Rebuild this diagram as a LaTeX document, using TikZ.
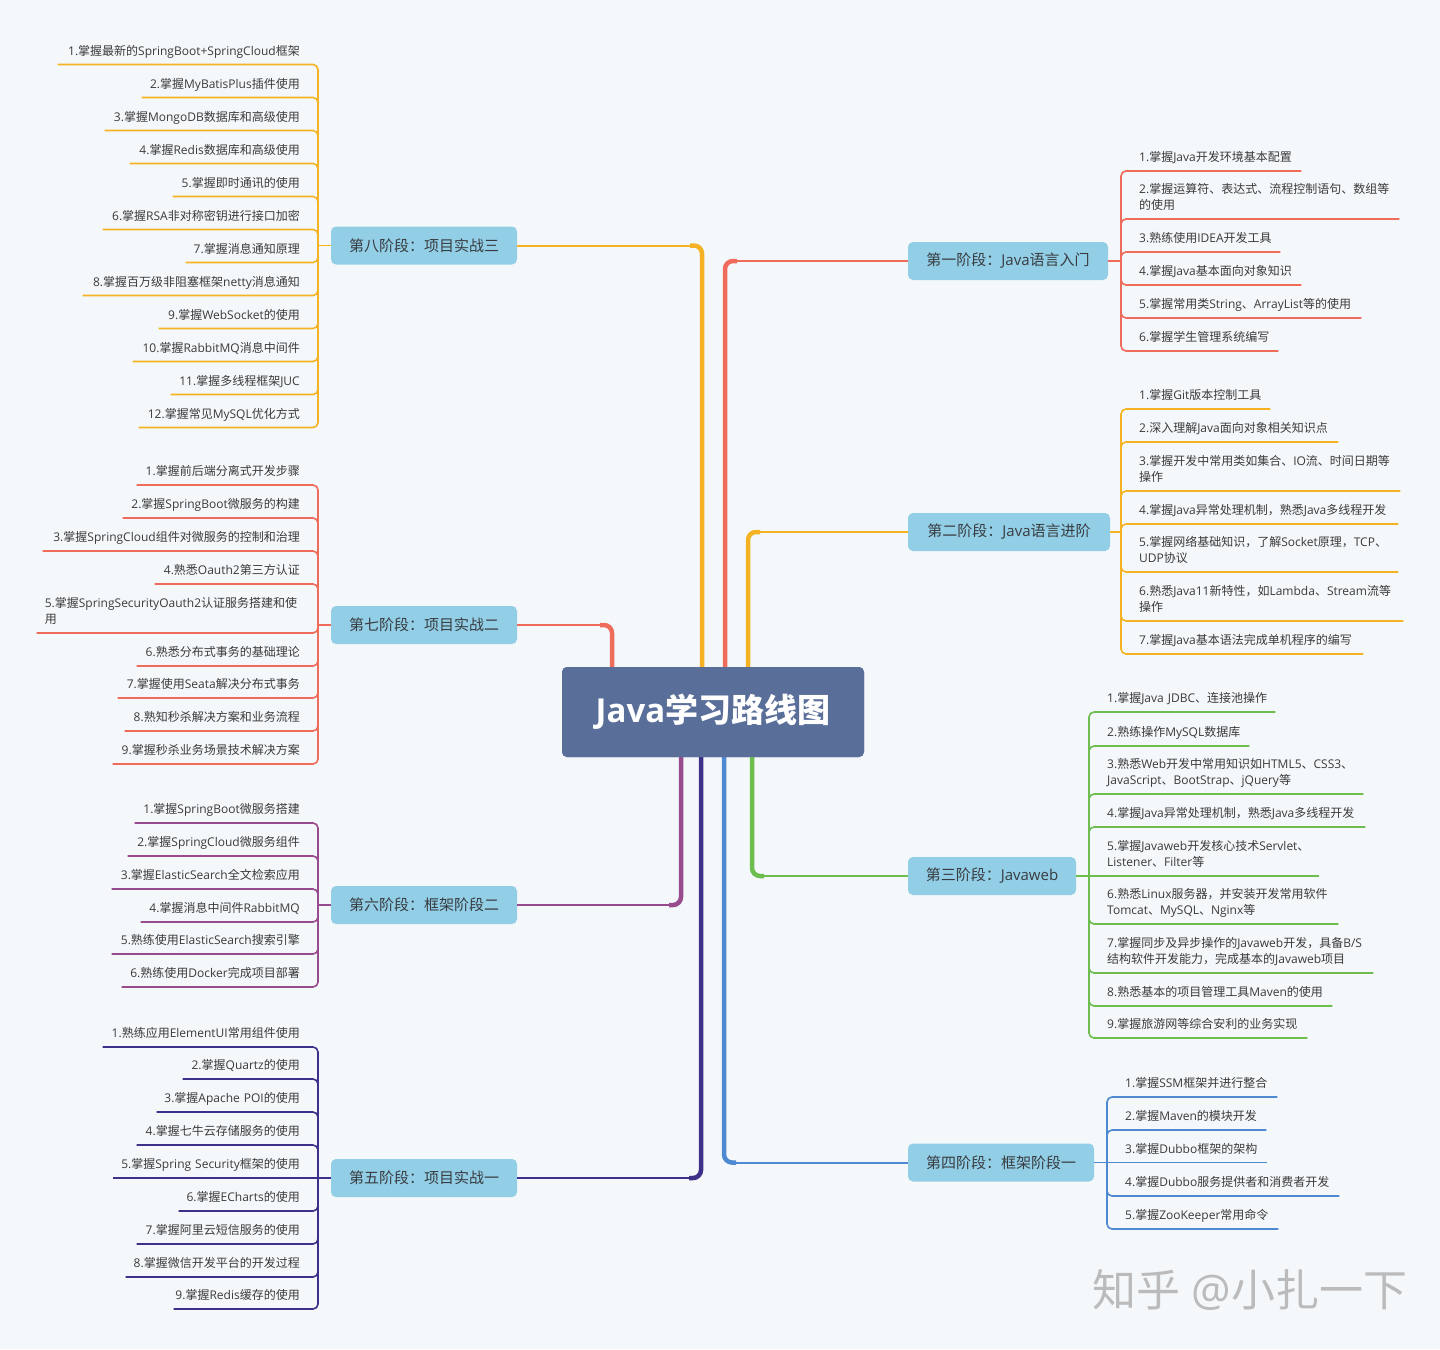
\documentclass[tikz,border=0pt]{standalone}
\usepackage{fontspec}
\setmainfont{Open Sans}
\newfontfamily\latinfont{Open Sans}
\newfontfamily\cjkfont{Noto Sans CJK SC}
\XeTeXinterchartokenstate=1
\newXeTeXintercharclass\cjkclass
\count255="2E80
\loop\ifnum\count255<"A000 \XeTeXcharclass\count255=\cjkclass \advance\count255 by 1 \repeat
\count255="FF00
\loop\ifnum\count255<"FFF0 \XeTeXcharclass\count255=\cjkclass \advance\count255 by 1 \repeat
\XeTeXinterchartoks 0 \cjkclass = {\cjkfont}
\XeTeXinterchartoks 4095 \cjkclass = {\cjkfont}
\XeTeXinterchartoks \cjkclass 0 = {\latinfont}
\XeTeXinterchartoks \cjkclass 4095 = {\latinfont}

\definecolor{bgcol}{HTML}{F4F8FB}
\definecolor{corange}{HTML}{F5B324}
\definecolor{cred}{HTML}{EF6C5A}
\definecolor{cgreen}{HTML}{6DBE4E}
\definecolor{cblue}{HTML}{4E89D1}
\definecolor{cpurple}{HTML}{984B8D}
\definecolor{cindigo}{HTML}{3D3088}
\definecolor{ccenter}{HTML}{596E99}
\definecolor{stagefill}{HTML}{92CEE6}
\definecolor{stagetext}{HTML}{383C40}
\definecolor{leaftext}{HTML}{3A3A3A}
\definecolor{wmgray}{HTML}{BBBBBB}

\newcommand\leaffont{\fontsize{12}{16}\selectfont\hyphenpenalty=10000 \exhyphenpenalty=10000 }
% left leaf: color, name, underline y, left x, text, bracket, path op
\newcommand\lleaf[7]{%
  \pgfmathsetmacro\lw{292-#4}%
  \node[leaf, text width=\lw pt, align=right, anchor=south east] (#2) at (308,#3) {\hbox to \hsize{\hss #5\strut}};%
  \draw[leafline, draw=#1] (#6) #7 (#2.south west);%
}
% right leaf: color, name, underline y, bracket x, right x, text, bracket, path op
\newcommand\rleaf[8]{%
  \pgfmathsetmacro\rw{#5-#4-26}%
  \node[leaf, text width=\rw pt, align=left, anchor=south west] (#2) at (#4+10,#3) {#6\strut};%
  \draw[leafline, draw=#1] (#7) #8 (#2.south east);%
}

\begin{document}
\begin{tikzpicture}[x=1pt,y=-1pt,
  leaf/.style={inner xsep=8pt, inner ysep=4.3pt, font=\leaffont, text=leaftext},
  leafline/.style={line width=1.6pt, rounded corners=5pt},
  stagebox/.style={fill=stagefill, rounded corners=5pt, minimum height=38pt, inner sep=0pt,
    font=\fontsize{15}{18}\selectfont, text=stagetext},
  centerbox/.style={fill=ccenter, rounded corners=5pt, minimum width=302pt, minimum height=90pt, inner sep=0pt,
    text=white, font=\fontsize{33}{38}\selectfont\bfseries},
  trunk/.style={line width=4.5pt, rounded corners=8pt},
  branch/.style={line width=2pt}]
\useasboundingbox (0,0) rectangle (1440,1349);
\fill[bgcol] (0,0) rectangle (1440,1349);

% stage nodes
\node[stagebox, minimum width=200pt] (s1) at (1008,261) {第一阶段：Java语言入门};
\node[stagebox, minimum width=202pt] (s2) at (1009,532) {第二阶段：Java语言进阶};
\node[stagebox, minimum width=168pt] (s3) at (992,876) {第三阶段：Javaweb};
\node[stagebox, minimum width=186pt] (s4) at (1001,1162.5) {第四阶段：框架阶段一};
\node[stagebox, minimum width=186pt] (s5) at (424,1178) {第五阶段：项目实战一};
\node[stagebox, minimum width=186pt] (s6) at (424,905) {第六阶段：框架阶段二};
\node[stagebox, minimum width=186pt] (s7) at (424,625) {第七阶段：项目实战二};
\node[stagebox, minimum width=186pt] (s8) at (424,245.5) {第八阶段：项目实战三};

% central node placeholder for anchors (drawn again on top)
\node[centerbox] (c) at (713,712) {Java学习路线图};

% trunk corner coordinates
\coordinate (k8) at (690,245.5);
\coordinate (k7) at (600,625);
\coordinate (k6) at (669,905);
\coordinate (k5) at (689,1178);
\coordinate (k1) at (737,261);
\coordinate (k2) at (760,532);
\coordinate (k3) at (764,876);
\coordinate (k4) at (736,1162.5);

\draw[trunk, draw=corange] ([xshift=-11pt]c.north) |- (k8);
\draw[branch, draw=corange] (k8) -- (s8.east);
\draw[trunk, draw=cred] ([xshift=-101pt]c.north) |- (k7);
\draw[branch, draw=cred] (k7) -- (s7.east);
\draw[trunk, draw=cred] ([xshift=12pt]c.north) |- (k1);
\draw[branch, draw=cred] (k1) -- (s1.west);
\draw[trunk, draw=corange] ([xshift=35pt]c.north) |- (k2);
\draw[branch, draw=corange] (k2) -- (s2.west);
\draw[trunk, draw=cpurple] ([xshift=-32pt]c.south) |- (k6);
\draw[branch, draw=cpurple] (k6) -- (s6.east);
\draw[trunk, draw=cindigo] ([xshift=-12pt]c.south) |- (k5);
\draw[branch, draw=cindigo] (k5) -- (s5.east);
\draw[trunk, draw=cblue] ([xshift=11pt]c.south) |- (k4);
\draw[branch, draw=cblue] (k4) -- (s4.west);
\draw[trunk, draw=cgreen] ([xshift=39pt]c.south) |- (k3);
\draw[branch, draw=cgreen] (k3) -- (s3.west);

\node[centerbox] (ctop) at (c) {Java学习路线图};

% brackets
\coordinate (b8) at (318,245.5);
\coordinate (b7) at (318,625);
\coordinate (b6) at (318,905);
\coordinate (b5) at (318,1178);
\coordinate (b1) at (1121,261);
\coordinate (b2) at (1121,532);
\coordinate (b3) at (1089,876);
\coordinate (b4) at (1107,1162.5);

\draw[leafline, draw=corange] (s8.west) -- (b8);
\draw[leafline, draw=cred] (s7.west) -- (b7);
\draw[leafline, draw=cpurple] (s6.west) -- (b6);
\draw[leafline, draw=cindigo] (s5.west) -- (b5);
\draw[leafline, draw=cred] (s1.east) -- (b1);
\draw[leafline, draw=corange] (s2.east) -- (b2);
\draw[leafline, draw=cgreen] (s3.east) -- (b3);
\draw[leafline, draw=cblue] (s4.east) -- (b4);

% stage 8
\lleaf{corange}{l8a}{64.5}{58}{1.掌握最新的SpringBoot+SpringCloud框架}{b8}{|-}
\lleaf{corange}{l8b}{97.5}{142}{2.掌握MyBatisPlus插件使用}{b8}{|-}
\lleaf{corange}{l8c}{130.5}{105}{3.掌握MongoDB数据库和高级使用}{b8}{|-}
\lleaf{corange}{l8d}{163.5}{130}{4.掌握Redis数据库和高级使用}{b8}{|-}
\lleaf{corange}{l8e}{196.5}{173}{5.掌握即时通讯的使用}{b8}{|-}
\lleaf{corange}{l8f}{229.5}{103}{6.掌握RSA非对称密钥进行接口加密}{b8}{|-}
\lleaf{corange}{l8g}{262.5}{186}{7.掌握消息通知原理}{b8}{|-}
\lleaf{corange}{l8h}{295.5}{83}{8.掌握百万级非阻塞框架netty消息通知}{b8}{|-}
\lleaf{corange}{l8i}{328.5}{159}{9.掌握WebSocket的使用}{b8}{|-}
\lleaf{corange}{l8j}{361.5}{133}{10.掌握RabbitMQ消息中间件}{b8}{|-}
\lleaf{corange}{l8k}{394.5}{171}{11.掌握多线程框架JUC}{b8}{|-}
\lleaf{corange}{l8l}{427.5}{139}{12.掌握常见MySQL优化方式}{b8}{|-}

% stage 7
\lleaf{cred}{l7a}{485}{137}{1.掌握前后端分离式开发步骤}{b7}{|-}
\lleaf{cred}{l7b}{518}{123}{2.掌握SpringBoot微服务的构建}{b7}{|-}
\lleaf{cred}{l7c}{551}{43}{3.掌握SpringCloud组件对微服务的控制和治理}{b7}{|-}
\lleaf{cred}{l7d}{584}{155}{4.熟悉Oauth2第三方认证}{b7}{|-}
\node[leaf, text width=255pt, align=left, anchor=south east] (l7e) at (308,633) {5.掌握SpringSecurityOauth2认证服务搭建和使\\用\strut};
\draw[leafline, draw=cred] (b7) |- (l7e.south west);
\lleaf{cred}{l7f}{666}{137}{6.熟悉分布式事务的基础理论}{b7}{|-}
\lleaf{cred}{l7g}{698}{118}{7.掌握使用Seata解决分布式事务}{b7}{|-}
\lleaf{cred}{l7h}{731}{125}{8.熟知秒杀解决方案和业务流程}{b7}{|-}
\lleaf{cred}{l7i}{764}{113}{9.掌握秒杀业务场景技术解决方案}{b7}{|-}

% stage 6
\lleaf{cpurple}{l6a}{823}{135}{1.掌握SpringBoot微服务搭建}{b6}{|-}
\lleaf{cpurple}{l6b}{856}{128}{2.掌握SpringCloud微服务组件}{b6}{|-}
\lleaf{cpurple}{l6c}{889}{112}{3.掌握ElasticSearch全文检索应用}{b6}{|-}
\lleaf{cpurple}{l6d}{922}{141}{4.掌握消息中间件RabbitMQ}{b6}{|-}
\lleaf{cpurple}{l6e}{954}{112}{5.熟练使用ElasticSearch搜索引擎}{b6}{|-}
\lleaf{cpurple}{l6f}{987}{122}{6.熟练使用Docker完成项目部署}{b6}{|-}

% stage 5
\lleaf{cindigo}{l5a}{1047}{103}{1.熟练应用ElementUI常用组件使用}{b5}{|-}
\lleaf{cindigo}{l5b}{1079}{183}{2.掌握Quartz的使用}{b5}{|-}
\lleaf{cindigo}{l5c}{1112}{157}{3.掌握Apache POI的使用}{b5}{|-}
\lleaf{cindigo}{l5d}{1145}{137}{4.掌握七牛云存储服务的使用}{b5}{|-}
\lleaf{cindigo}{l5e}{1178}{113}{5.掌握Spring Security框架的使用}{b5}{--}
\lleaf{cindigo}{l5f}{1211}{179}{6.掌握ECharts的使用}{b5}{|-}
\lleaf{cindigo}{l5g}{1244}{137}{7.掌握阿里云短信服务的使用}{b5}{|-}
\lleaf{cindigo}{l5h}{1277}{126}{8.掌握微信开发平台的开发过程}{b5}{|-}
\lleaf{cindigo}{l5i}{1309}{174}{9.掌握Redis缓存的使用}{b5}{|-}

% stage 1
\rleaf{cred}{r1a}{171}{1121}{1301}{1.掌握Java开发环境基本配置}{b1}{|-}
\rleaf{cred}{r1b}{219}{1121}{1399}{2.掌握运算符、表达式、流程控制语句、数组等\\的使用}{b1}{|-}
\rleaf{cred}{r1c}{252}{1121}{1280}{3.熟练使用IDEA开发工具}{b1}{|-}
\rleaf{cred}{r1d}{285}{1121}{1301}{4.掌握Java基本面向对象知识}{b1}{|-}
\rleaf{cred}{r1e}{318}{1121}{1361}{5.掌握常用类String、ArrayList等的使用}{b1}{|-}
\rleaf{cred}{r1f}{351}{1121}{1278}{6.掌握学生管理系统编写}{b1}{|-}

% stage 2
\rleaf{corange}{r2a}{409}{1121}{1270}{1.掌握Git版本控制工具}{b2}{|-}
\rleaf{corange}{r2b}{442}{1121}{1338}{2.深入理解Java面向对象相关知识点}{b2}{|-}
\rleaf{corange}{r2c}{491}{1121}{1400}{3.掌握开发中常用类如集合、IO流、时间日期等\\操作}{b2}{|-}
\rleaf{corange}{r2d}{524}{1121}{1398}{4.掌握Java异常处理机制，熟悉Java多线程开发}{b2}{|-}
\rleaf{corange}{r2e}{572}{1121}{1398}{5.掌握网络基础知识，了解Socket原理，TCP、\\UDP协议}{b2}{|-}
\rleaf{corange}{r2f}{621}{1121}{1403}{6.熟悉Java11新特性，如Lambda、Stream流等\\操作}{b2}{|-}
\rleaf{corange}{r2g}{654}{1121}{1363}{7.掌握Java基本语法完成单机程序的编写}{b2}{|-}

% stage 3
\rleaf{cgreen}{r3a}{712}{1089}{1275}{1.掌握Java JDBC、连接池操作}{b3}{|-}
\rleaf{cgreen}{r3b}{746}{1089}{1249}{2.熟练操作MySQL数据库}{b3}{|-}
\rleaf{cgreen}{r3c}{794}{1089}{1363}{3.熟悉Web开发中常用知识如HTML5、CSS3、\\JavaScript、BootStrap、jQuery等}{b3}{|-}
\rleaf{cgreen}{r3d}{827}{1089}{1365}{4.掌握Java异常处理机制，熟悉Java多线程开发}{b3}{|-}
\rleaf{cgreen}{r3e}{876}{1089}{1319}{5.掌握Javaweb开发核心技术Servlet、\\Listener、Filter等}{b3}{--}
\rleaf{cgreen}{r3f}{924}{1089}{1338}{6.熟悉Linux服务器，并安装开发常用软件\\Tomcat、MySQL、Nginx等}{b3}{|-}
\rleaf{cgreen}{r3g}{973}{1089}{1373}{7.掌握同步及异步操作的Javaweb开发，具备B/S\\结构软件开发能力，完成基本的Javaweb项目}{b3}{|-}
\rleaf{cgreen}{r3h}{1006}{1089}{1332}{8.熟悉基本的项目管理工具Maven的使用}{b3}{|-}
\rleaf{cgreen}{r3i}{1038}{1089}{1307}{9.掌握旅游网等综合安利的业务实现}{b3}{|-}

% stage 4
\rleaf{cblue}{r4a}{1097}{1107}{1277}{1.掌握SSM框架并进行整合}{b4}{|-}
\rleaf{cblue}{r4b}{1130}{1107}{1266}{2.掌握Maven的模块开发}{b4}{|-}
\rleaf{cblue}{r4c}{1162.5}{1107}{1267}{3.掌握Dubbo框架的架构}{b4}{--}
\rleaf{cblue}{r4d}{1196}{1107}{1339}{4.掌握Dubbo服务提供者和消费者开发}{b4}{|-}
\rleaf{cblue}{r4e}{1229}{1107}{1278}{5.掌握ZooKeeper常用命令}{b4}{|-}

% watermark
\node[font=\fontsize{44}{48}\selectfont, text=wmgray] (wm) at (1250,1290) {知乎 @小扎一下};
\end{tikzpicture}
\end{document}
